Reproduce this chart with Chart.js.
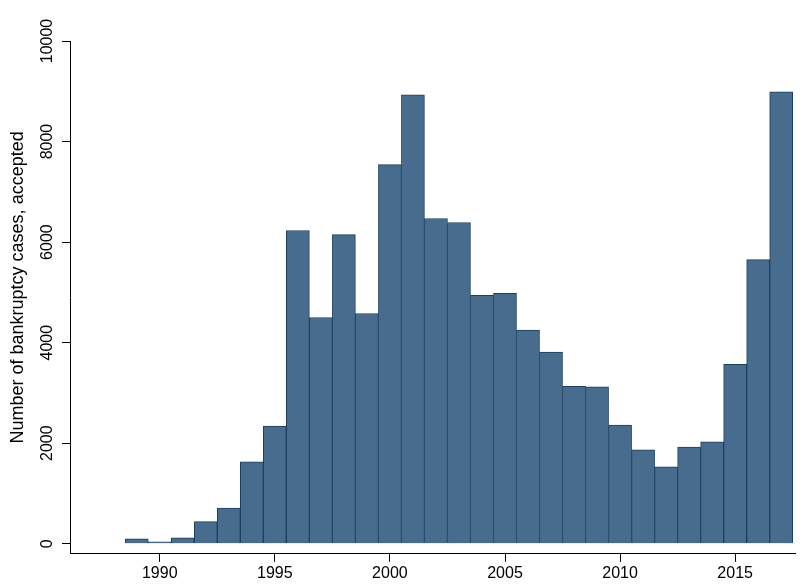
<!DOCTYPE html>
<html>
<head>
<meta charset="utf-8">
<script src="https://cdn.jsdelivr.net/npm/chart.js@4"></script>
<style>
  body { margin: 0; background: #fff; }
  #wrap { width: 800px; height: 587px; }
</style>
</head>
<body>
<div id="wrap"><canvas id="grafico"></canvas></div>
<script>
// años y casos de quiebra aceptados
const anios = [1989, 1990, 1991, 1992, 1993, 1994, 1995, 1996, 1997, 1998, 1999, 2000, 2001, 2002, 2003,
  2004, 2005, 2006, 2007, 2008, 2009, 2010, 2011, 2012, 2013, 2014, 2015, 2016, 2017];
const casos = [100, 40, 120, 440, 710, 1630, 2340, 6230, 4500, 6150, 4580, 7540, 8930, 6470, 6390,
  4940, 4980, 4250, 3810, 3130, 3120, 2360, 1870, 1530, 1925, 2025, 3570, 5650, 8990];
const ticksX = [1990, 1995, 2000, 2005, 2010, 2015];
const ticksY = [0, 2000, 4000, 6000, 8000, 10000];
const tituloY = "Number of bankruptcy cases, accepted";

const fuente = "'Liberation Sans', Arial, sans-serif";

// etiquetas del eje y rotadas, como en Stata
const etiquetasY = {
  id: "etiquetasY",
  afterDraw(chart) {
    const { ctx, chartArea } = chart;
    const y = chart.scales.y;
    ctx.save();
    ctx.fillStyle = "#000";
    ctx.font = "16px " + fuente;
    ctx.textAlign = "center";
    ctx.textBaseline = "middle";
    ticksY.forEach(v => {
      ctx.save();
      ctx.translate(chartArea.left - 22, y.getPixelForValue(v));
      ctx.rotate(-Math.PI / 2);
      ctx.fillText(String(v), 0, 0);
      ctx.restore();
    });
    ctx.translate(18, (chartArea.top + chartArea.bottom) / 2 - 10);
    ctx.rotate(-Math.PI / 2);
    ctx.font = "18px " + fuente;
    ctx.fillText(tituloY, 0, 0);
    ctx.restore();
  }
};

new Chart(document.getElementById("grafico"), {
  type: "bar",
  data: {
    datasets: [{
      data: anios.map((a, i) => ({ x: a, y: casos[i] })),
      backgroundColor: "#476c8e",
      borderColor: "#1a3f5f",
      borderWidth: 1,
      barPercentage: 1,
      categoryPercentage: 1,
      grouped: false
    }]
  },
  options: {
    responsive: true,
    maintainAspectRatio: false,
    animation: false,
    layout: { padding: { left: 62, right: 5, top: 41, bottom: 2 } },
    plugins: { legend: { display: false }, tooltip: { enabled: false } },
    scales: {
      x: {
        type: "linear",
        offset: false,
        min: 1986.1,
        max: 2017.6,
        afterBuildTicks: s => { s.ticks = ticksX.map(v => ({ value: v })); },
        ticks: { color: "#000", font: { size: 16, family: fuente }, maxRotation: 0, padding: 2, callback: v => String(v) },
        grid: { offset: false, drawOnChartArea: false, tickLength: 8, color: "#000", lineWidth: 1 },
        border: { color: "#000", width: 1 }
      },
      y: {
        min: -200,
        max: 10000,
        afterBuildTicks: s => { s.ticks = ticksY.map(v => ({ value: v })); },
        ticks: { display: false },
        grid: { drawOnChartArea: false, tickLength: 8, color: "#000", lineWidth: 1 },
        border: { color: "#000", width: 1 }
      }
    }
  },
  plugins: [etiquetasY]
});
</script>
</body>
</html>
